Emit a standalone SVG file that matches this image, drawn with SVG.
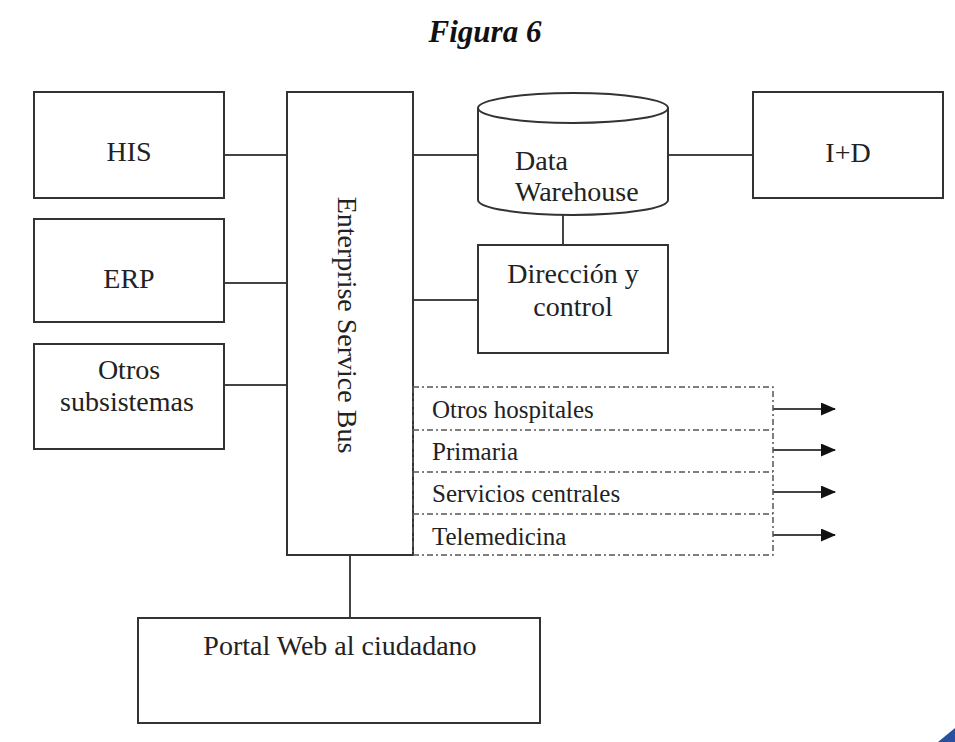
<svg xmlns="http://www.w3.org/2000/svg" width="955" height="742" viewBox="0 0 955 742">
<style>
.box{fill:#fff;stroke:#333;stroke-width:2}
.ln{stroke:#444;stroke-width:2;fill:none}
.dash{stroke:#555;stroke-width:1.5;stroke-dasharray:6 3 2 3;fill:none}
text{font-family:"Liberation Serif","Times New Roman",serif;fill:#222;font-size:28px}
.c{text-anchor:middle}
.row{font-size:25px}
</style>
<defs>
<marker id="ah" markerWidth="15" markerHeight="13" refX="14" refY="6.5" orient="auto" markerUnits="userSpaceOnUse">
<path d="M0,0 L15,6.5 L0,13 Z" fill="#111"/>
</marker>
</defs>
<rect width="955" height="742" fill="#fff"/>
<text x="485" y="42" class="c" style="font-size:31px;font-style:italic;font-weight:bold;fill:#111">Figura 6</text>

<g id="connectors">
<line class="ln" x1="224" y1="155" x2="287" y2="155"/>
<line class="ln" x1="224" y1="283" x2="287" y2="283"/>
<line class="ln" x1="224" y1="385" x2="287" y2="385"/>
<line class="ln" x1="413" y1="155" x2="478" y2="155"/>
<line class="ln" x1="668" y1="155" x2="753" y2="155"/>
<line class="ln" x1="563" y1="215" x2="563" y2="245"/>
<line class="ln" x1="413" y1="300" x2="478" y2="300"/>
<line class="ln" x1="350" y1="555" x2="350" y2="618"/>
<line class="ln" x1="773" y1="409" x2="835" y2="409" marker-end="url(#ah)"/>
<line class="ln" x1="773" y1="450" x2="835" y2="450" marker-end="url(#ah)"/>
<line class="ln" x1="773" y1="492" x2="835" y2="492" marker-end="url(#ah)"/>
<line class="ln" x1="773" y1="535" x2="835" y2="535" marker-end="url(#ah)"/>
</g>

<g id="his"><rect class="box" x="34" y="92" width="190" height="106"/><text x="129" y="161" class="c">HIS</text></g>
<g id="erp"><rect class="box" x="34" y="219" width="190" height="103"/><text x="129" y="288" class="c">ERP</text></g>
<g id="otros"><rect class="box" x="34" y="344" width="190" height="105"/><text x="129" y="379" class="c">Otros</text><text x="127" y="411" class="c">subsistemas</text></g>
<g id="esb"><rect class="box" x="287" y="92" width="126" height="463"/><text transform="translate(338,325) rotate(90)" class="c">Enterprise Service Bus</text></g>
<g id="dw">
<path class="box" d="M478,108 L478,200 A95,15 0 0 0 668,200 L668,108"/>
<ellipse class="box" cx="573" cy="108" rx="95" ry="15"/>
<text x="515" y="170">Data</text><text x="515" y="201">Warehouse</text>
</g>
<g id="id"><rect class="box" x="753" y="92" width="190" height="106"/><text x="848" y="162" class="c">I+D</text></g>
<g id="direccion"><rect class="box" x="478" y="245" width="190" height="108"/><text x="573" y="283" class="c">Dirección y</text><text x="573" y="316" class="c">control</text></g>
<g id="destinos">
<rect class="dash" x="413" y="387" width="360" height="168"/>
<line class="dash" x1="413" y1="430" x2="773" y2="430"/>
<line class="dash" x1="413" y1="472" x2="773" y2="472"/>
<line class="dash" x1="413" y1="514" x2="773" y2="514"/>
<text x="432" y="418" class="row">Otros hospitales</text>
<text x="432" y="460" class="row">Primaria</text>
<text x="432" y="502" class="row">Servicios centrales</text>
<text x="432" y="545" class="row">Telemedicina</text>
</g>
<g id="portal"><rect class="box" x="138" y="618" width="402" height="105"/><text x="340" y="655" class="c">Portal Web al ciudadano</text></g>
<path d="M955,728 L955,742 L938,742 Z" fill="#2a4fa0"/>
</svg>
